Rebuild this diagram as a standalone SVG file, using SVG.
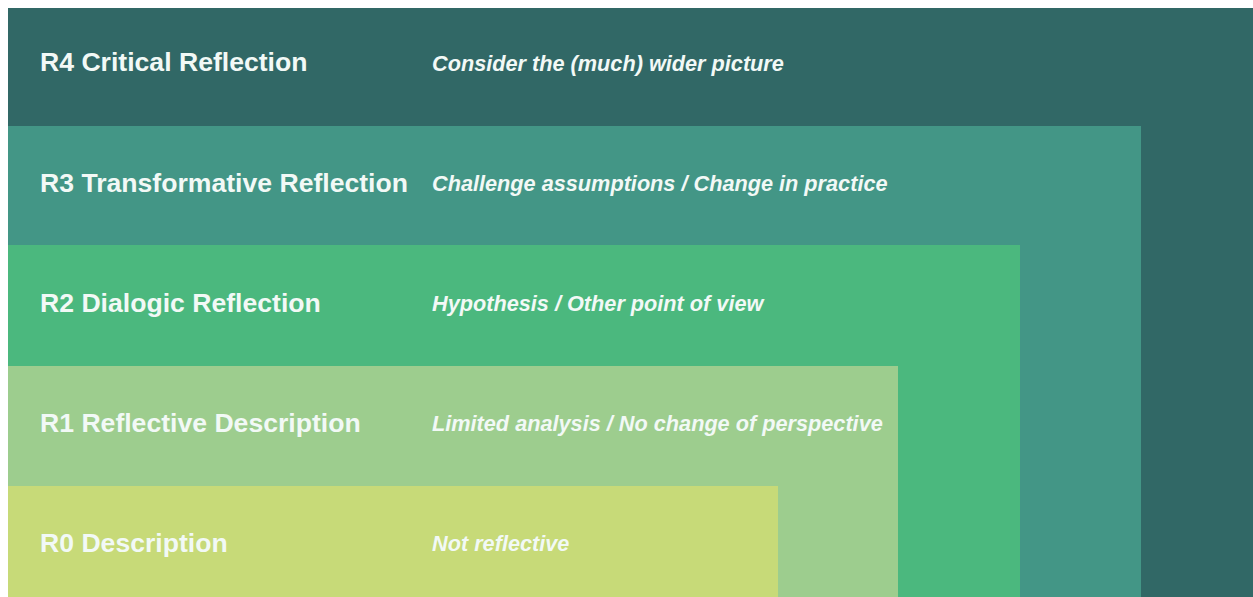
<svg xmlns="http://www.w3.org/2000/svg" width="1253" height="597" viewBox="0 0 1253 597">
<style>
.t{font-family:"Liberation Sans",Arial,sans-serif;font-weight:bold;font-size:26.6px;fill:#f2f9f6}
.d{font-family:"Liberation Sans",Arial,sans-serif;font-weight:bold;font-style:italic;font-size:21.7px;fill:#f2f9f6}
</style>
<rect width="1253" height="597" fill="#ffffff"/>
<g id="r4"><rect x="8" y="8" width="1245" height="589" fill="#316866"/>
<text class="t" x="40" y="71">R4 Critical Reflection</text>
<text class="d" x="432" y="71">Consider the (much) wider picture</text></g>
<g id="r3"><rect x="8" y="126" width="1133" height="471" fill="#439686"/>
<text class="t" x="40" y="192">R3 Transformative Reflection</text>
<text class="d" x="432" y="191">Challenge assumptions / Change in practice</text></g>
<g id="r2"><rect x="8" y="245" width="1012" height="352" fill="#4bb87e"/>
<text class="t" x="40" y="312">R2 Dialogic Reflection</text>
<text class="d" x="432" y="311">Hypothesis / Other point of view</text></g>
<g id="r1"><rect x="8" y="366" width="890" height="231" fill="#9dcd8e"/>
<text class="t" x="40" y="432">R1 Reflective Description</text>
<text class="d" x="432" y="431">Limited analysis / No change of perspective</text></g>
<g id="r0"><rect x="8" y="486" width="770" height="111" fill="#c7da78"/>
<text class="t" x="40" y="552">R0 Description</text>
<text class="d" x="432" y="551">Not reflective</text></g>
<g id="connectors"/>
</svg>
